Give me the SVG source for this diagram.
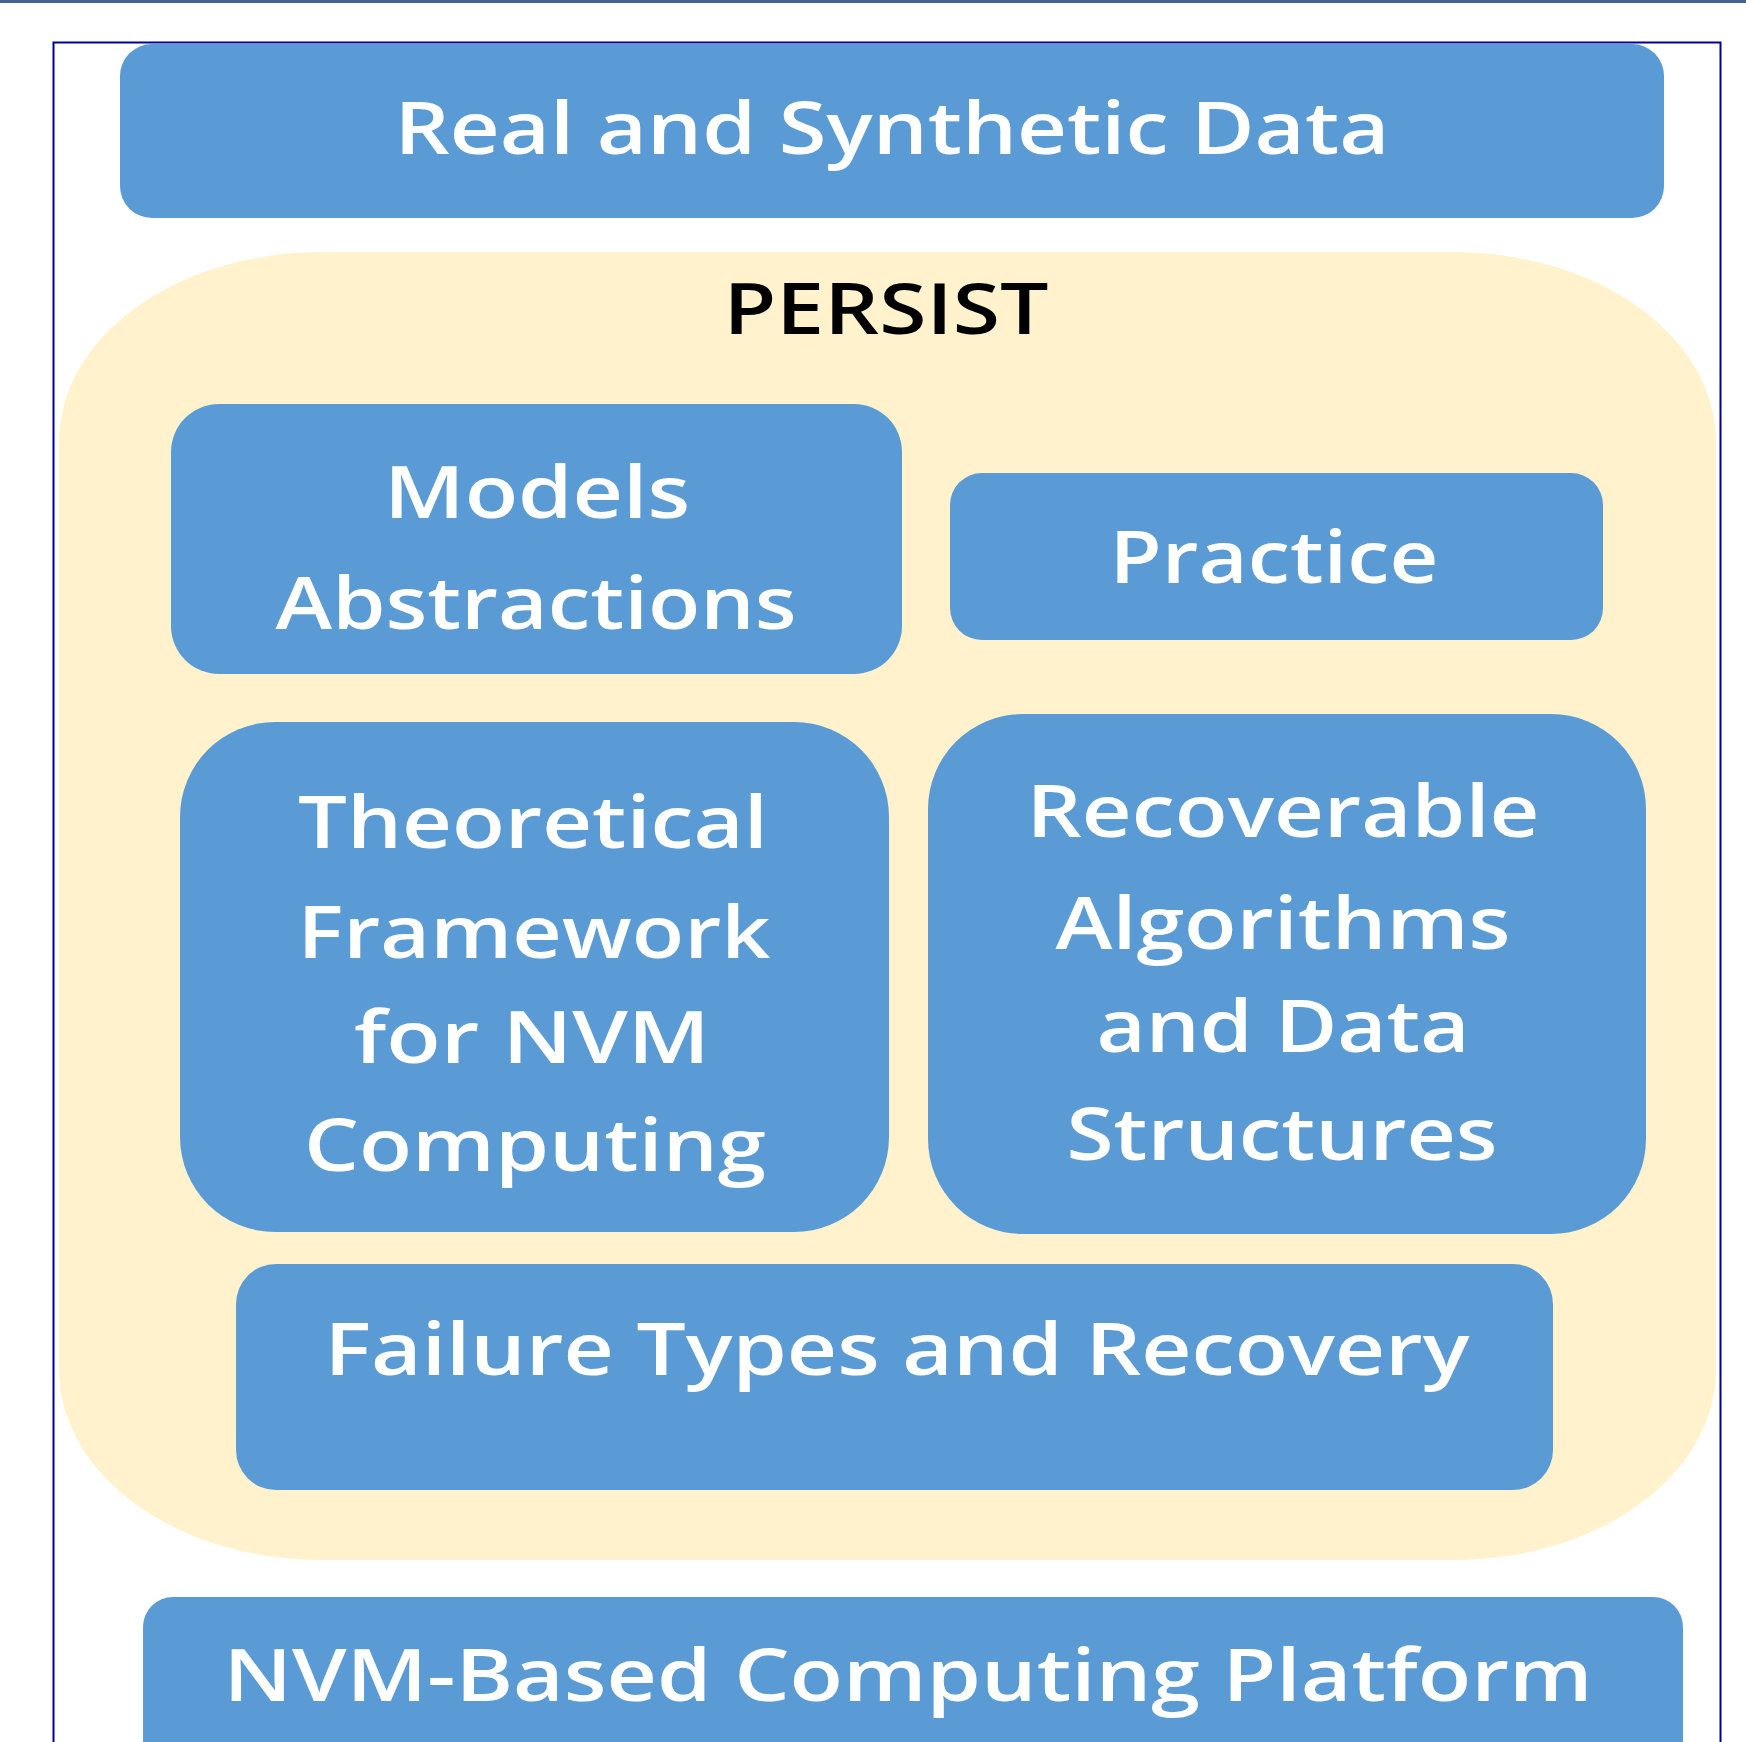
<svg xmlns="http://www.w3.org/2000/svg" width="1746" height="1742" viewBox="0 0 1746 1742">
<style>
.box{fill:#5B9BD5;}
.t{font-family:"Open Sans","Liberation Sans",sans-serif;fill:#FFFFFF;text-anchor:middle;font-size:73px;font-weight:600;}
.p{font-family:"Open Sans","Liberation Sans",sans-serif;fill:#000000;text-anchor:middle;font-size:70px;font-weight:600;}
</style>
<rect x="0" y="0" width="1746" height="1742" fill="#FFFFFF"/>
<rect x="0" y="0" width="1746" height="3" fill="#44638F"/>
<rect id="frame" x="53.5" y="42.5" width="1667" height="1760" fill="none" stroke="#000099" stroke-width="2"/>
<g id="real-data">
<rect class="box" x="120" y="44" width="1544" height="174" rx="32" ry="32"/>
<text class="t" x="892" y="154" font-size="78" textLength="995" lengthAdjust="spacingAndGlyphs">Real and Synthetic Data</text>
</g>
<g id="persist">
<rect x="59" y="252" width="1657" height="1308" rx="262" ry="190" fill="#FFF2CC"/>
<text class="p" x="886" y="334" textLength="325" lengthAdjust="spacingAndGlyphs">PERSIST</text>
</g>
<g id="models">
<rect class="box" x="171" y="404" width="731" height="270" rx="48" ry="48"/>
<text class="t" x="537" y="518" textLength="306" lengthAdjust="spacingAndGlyphs">Models</text>
<text class="t" x="536" y="629" textLength="521" lengthAdjust="spacingAndGlyphs">Abstractions</text>
</g>
<g id="practice">
<rect class="box" x="950" y="473" width="653" height="167" rx="32" ry="32"/>
<text class="t" x="1274" y="583" textLength="329" lengthAdjust="spacingAndGlyphs">Practice</text>
</g>
<g id="theoretical">
<rect class="box" x="180" y="722" width="709" height="510" rx="95" ry="95"/>
<text class="t" x="533" y="848" textLength="470" lengthAdjust="spacingAndGlyphs">Theoretical</text>
<text class="t" x="534" y="958" textLength="473" lengthAdjust="spacingAndGlyphs">Framework</text>
<text class="t" x="532" y="1063" textLength="356" lengthAdjust="spacingAndGlyphs">for NVM</text>
<text class="t" x="535" y="1171" textLength="462" lengthAdjust="spacingAndGlyphs">Computing</text>
</g>
<g id="recoverable">
<rect class="box" x="928" y="714" width="718" height="520" rx="95" ry="95"/>
<text class="t" x="1283" y="837" textLength="513" lengthAdjust="spacingAndGlyphs">Recoverable</text>
<text class="t" x="1283" y="949" textLength="455" lengthAdjust="spacingAndGlyphs">Algorithms</text>
<text class="t" x="1283" y="1052" textLength="373" lengthAdjust="spacingAndGlyphs">and Data</text>
<text class="t" x="1282" y="1160" textLength="431" lengthAdjust="spacingAndGlyphs">Structures</text>
</g>
<g id="failure">
<rect class="box" x="236" y="1264" width="1317" height="226" rx="40" ry="40"/>
<text class="t" x="897" y="1375" font-size="75" textLength="1145" lengthAdjust="spacingAndGlyphs">Failure Types and Recovery</text>
</g>
<g id="platform">
<rect class="box" x="143" y="1597" width="1540" height="200" rx="30" ry="30"/>
<text class="t" x="908" y="1701" font-size="75" textLength="1369" lengthAdjust="spacingAndGlyphs">NVM-Based Computing Platform</text>
</g>
<g id="connectors"></g>
</svg>
